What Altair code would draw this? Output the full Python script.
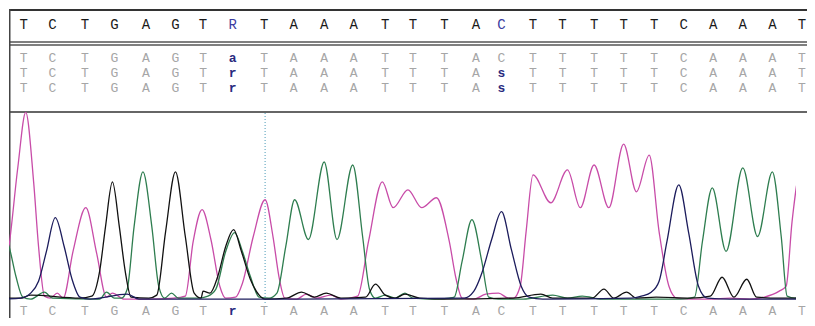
import altair as alt
import pandas as pd

# ---------------- data ----------------
# peak locations (scan units) of the 27 base calls
BASE_LOC = [23, 52, 85, 115, 147, 177, 205, 235, 267, 297, 328, 358, 390, 418,
            450, 482, 508, 540, 570, 602, 632, 663, 693, 723, 753, 783, 813]
CONSENSUS = list("TCTGAGTRTAAATTTACTTTTTCAAAT")
CONSENSUS_MARKED = [7, 16]
READ_1 = list("TCTGAGTaTAAATTTACTTTTTCAAAT")
READ_2 = list("TCTGAGTrTAAATTTAsTTTTTCAAAT")
READ_3 = list("TCTGAGTrTAAATTTAsTTTTTCAAAT")
TRACE_CALLS = list("TCTGAGTrTAAATTTACTTTTTCAAAT")
CURSOR_SCAN = 268

# chromatogram traces: (scan, signal)
T_SCAN = [4, 8, 17, 25, 33, 38, 44, 50, 57, 63, 73, 86, 97, 107, 113, 125, 150, 175, 187,
          195, 204, 213, 222, 228, 238, 245, 256, 268, 276, 282, 288, 300, 310, 320, 335,
          345, 362, 373, 387, 398, 413, 427, 442, 455, 462, 468, 480, 492, 505, 515, 520,
          527, 533, 540, 558, 575, 588, 602, 617, 632, 645, 658, 668, 678, 686, 700, 720,
          740, 760, 775, 790, 797, 803, 812, 818]
T_SIG = [30, 55, 135, 190, 120, 55, 5, 3, 8, 3, 50, 94, 48, 4, 8, 2, 2, 3, 5,
         60, 92, 62, 15, 3, 4, 18, 65, 102, 65, 25, 3, 2, 7, 3, 6,
         2, 5, 60, 120, 94, 112, 94, 104, 60, 22, 3, 2, 7, 8, 3, 3,
         15, 70, 127, 99, 132, 94, 137, 94, 158, 110, 147, 70, 15, 3, 2, 2,
         3, 2, 4, 10, 15, 80, 132, 110]

A_SCAN = [4, 8, 15, 22, 30, 44, 52, 100, 107, 115, 122, 128, 135, 144, 153, 160, 166, 173,
          180, 200, 210, 218, 228, 237, 245, 253, 262, 272, 280, 289, 298, 312, 328, 341,
          357, 367, 374, 380, 390, 400, 410, 418, 440, 455, 460, 468, 478, 488, 495, 505,
          530, 560, 575, 590, 610, 650, 690, 704, 712, 722, 736, 753, 768, 783, 792, 798,
          806, 812, 818]
A_SIG = [65, 55, 25, 4, 2, 9, 3, 2, 9, 3, 3, 12, 75, 130, 75, 15, 3, 8,
         3, 3, 5, 12, 50, 69, 50, 25, 4, 3, 8, 55, 102, 62, 140, 62,
         137, 65, 12, 3, 6, 3, 8, 3, 2, 3, 4, 40, 82, 40, 4, 2,
         2, 6, 3, 5, 2, 2, 2, 4, 60, 114, 50, 134, 65, 130, 65, 5,
         3, 8, 3]

G_SCAN = [4, 20, 30, 80, 92, 100, 106, 113, 120, 126, 132, 150, 158, 167, 177, 187, 196,
          203, 205, 212, 220, 228, 236, 244, 253, 262, 268, 290, 305, 318, 330, 345, 370,
          380, 390, 400, 410, 425, 450, 520, 548, 560, 600, 612, 622, 635, 645, 665, 700,
          720, 732, 744, 757, 767, 790, 815]
G_SIG = [3, 3, 6, 3, 5, 30, 75, 120, 75, 30, 4, 3, 6, 70, 130, 65, 8,
         3, 10, 8, 25, 55, 72, 50, 22, 6, 2, 3, 9, 4, 8, 3, 4,
         17, 6, 3, 7, 3, 2, 3, 7, 3, 3, 12, 3, 9, 3, 4, 3,
         5, 24, 4, 22, 4, 3, 3]

C_SCAN = [4, 20, 30, 38, 46, 55, 64, 72, 80, 90, 128, 140, 300, 470, 480, 488, 498, 508,
          518, 528, 536, 550, 640, 650, 660, 668, 676, 688, 698, 708, 717, 740, 815]
C_SIG = [2, 3, 8, 20, 50, 84, 55, 22, 4, 2, 7, 2, 2, 3, 10, 28, 62, 90,
         52, 15, 4, 2, 3, 5, 9, 20, 60, 117, 69, 15, 3, 2, 2]

CHANNELS = ["T", "A", "G", "C"]
CHANNEL_COLORS = ["#c84ca8", "#2e7d4f", "#111111", "#1c1c5c"]

# ---------------- build tables ----------------
frames = []
for ch, xs, ys in [("T", T_SCAN, T_SIG), ("A", A_SCAN, A_SIG),
                   ("G", G_SCAN, G_SIG), ("C", C_SCAN, C_SIG)]:
    frames.append(pd.DataFrame({"scan": xs, "signal": ys, "channel": ch}))
traces = pd.concat(frames, ignore_index=True)

W, H = 799, 310
XS = alt.Scale(domain=[8, 807], nice=False, zero=False)
FONT = "Courier New, Liberation Mono, monospace"


def row_df(letters, marked=None):
    if marked is None:
        hl = [c.islower() for c in letters]
    else:
        hl = [i in marked for i in range(len(letters))]
    return pd.DataFrame({"scan": BASE_LOC, "base": letters, "hl": hl})


def text_row(letters, ypx, color, hl_color, hl_bold=True, marked=None, size=13):
    df = row_df(letters, marked)
    base = alt.Chart(df)
    normal = base.transform_filter("!datum.hl").mark_text(
        font=FONT, fontSize=size, color=color, align="center", baseline="middle"
    ).encode(x=alt.X("scan:Q", scale=XS, axis=None), y=alt.value(ypx), text="base:N")
    high = base.transform_filter("datum.hl").mark_text(
        font=FONT, fontSize=size, color=hl_color, align="center", baseline="middle",
        fontWeight="bold" if hl_bold else "normal"
    ).encode(x=alt.X("scan:Q", scale=XS, axis=None), y=alt.value(ypx), text="base:N")
    return [normal, high]


def hrule(ypx, color, width):
    return alt.Chart(pd.DataFrame({"k": [0]})).mark_rule(color=color, strokeWidth=width).encode(
        x=alt.value(0), x2=alt.value(W), y=alt.value(ypx))


GRAY = "#a6a6a6"
BLUE = "#2a2a80"

layers = []
layers.append(hrule(1, "#333333", 2))
layers.append(hrule(33, "#555555", 1.5))
layers.append(hrule(36, "#555555", 1.5))
layers.append(hrule(103, "#333333", 1.5))
layers.append(alt.Chart(pd.DataFrame({"k": [0]})).mark_rule(color="#444444", strokeWidth=1.5).encode(
    x=alt.value(0.75), y=alt.value(0), y2=alt.value(H)))

layers += text_row(CONSENSUS, 16, "#1a1a1a", "#3c3ca0", hl_bold=False, marked=CONSENSUS_MARKED, size=14)
layers += text_row(READ_1, 49, GRAY, BLUE)
layers += text_row(READ_2, 64, GRAY, BLUE)
layers += text_row(READ_3, 79, GRAY, BLUE)
layers += text_row(TRACE_CALLS, 302, GRAY, BLUE)

layers.append(alt.Chart(pd.DataFrame({"scan": [CURSOR_SCAN]})).mark_rule(
    color="#4a9ab8", strokeWidth=1, strokeDash=[1, 2]).encode(
    x=alt.X("scan:Q", scale=XS, axis=None), y=alt.value(104), y2=alt.value(294)))

layers.append(alt.Chart(traces).mark_line(interpolate="monotone", strokeWidth=1.3, clip=True).encode(
    x=alt.X("scan:Q", scale=XS, axis=None),
    y=alt.Y("signal:Q", scale=alt.Scale(domain=[-16, 294], nice=False, zero=False), axis=None),
    color=alt.Color("channel:N", scale=alt.Scale(domain=CHANNELS, range=CHANNEL_COLORS), legend=None),
    detail="channel:N",
))

chart = alt.layer(*layers).properties(
    width=W, height=H, padding=0,
    autosize=alt.AutoSizeParams(type="fit", contains="padding"),
).configure_view(stroke=None)

chart.save("out.html", embed_options={"renderer": "svg", "actions": False})
